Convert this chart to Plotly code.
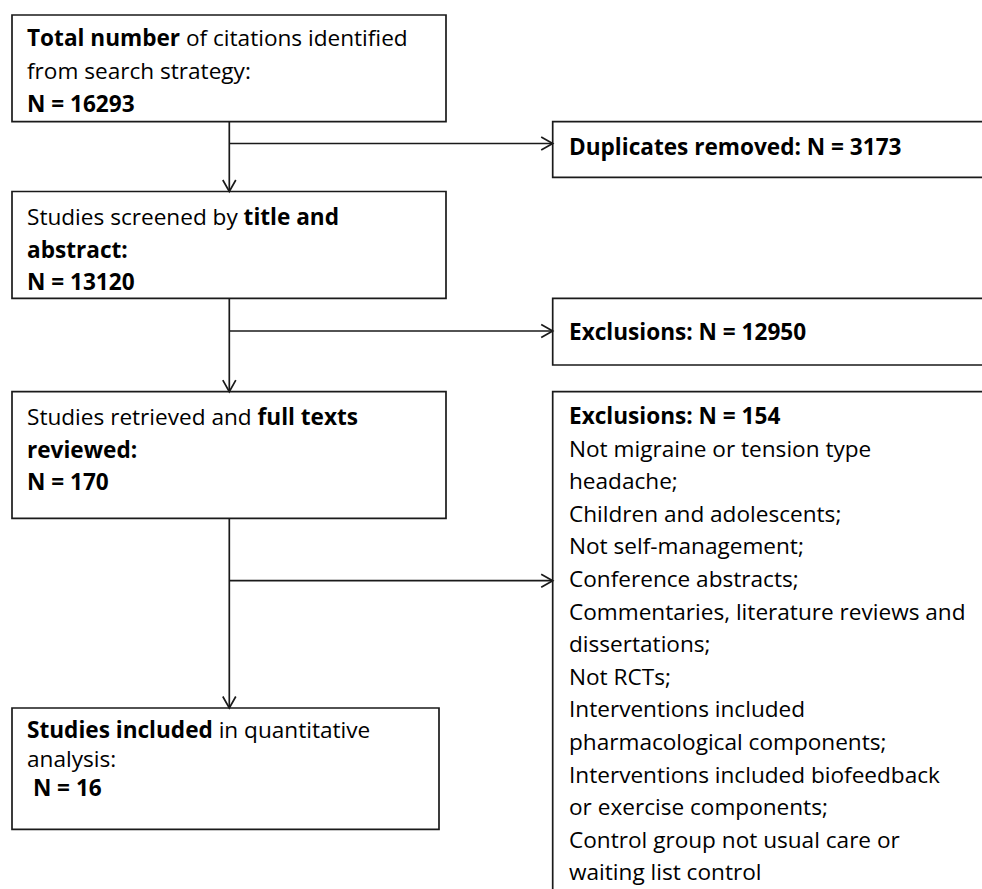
import plotly.graph_objects as go

# ---------------- data ----------------
counts = [16293, 3173, 13120, 12950, 170, 154, 16]

box1_lines = ["<b>Total number</b> of citations identified",
              "from search strategy:",
              f"<b>N = {counts[0]}</b>"]
dup_lines = [f"<b>Duplicates removed: N = {counts[1]}</b>"]
box2_lines = ["Studies screened by <b>title and</b>",
              "<b>abstract:</b>",
              f"<b>N = {counts[2]}</b>"]
excl1_lines = [f"<b>Exclusions: N = {counts[3]}</b>"]
box3_lines = ["Studies retrieved and <b>full texts</b>",
              "<b>reviewed:</b>",
              f"<b>N = {counts[4]}</b>"]
excl2_reasons = ["Not migraine or tension type",
                 "headache;",
                 "Children and adolescents;",
                 "Not self-management;",
                 "Conference abstracts;",
                 "Commentaries, literature reviews and",
                 "dissertations;",
                 "Not RCTs;",
                 "Interventions included",
                 "pharmacological components;",
                 "Interventions included biofeedback",
                 "or exercise components;",
                 "Control group not usual care or",
                 "waiting list control"]
excl2_lines = [f"<b>Exclusions: N = {counts[5]}</b>"] + excl2_reasons
box4_lines = ["<b>Studies included</b> in quantitative",
              "analysis:",
              f"\u00a0<b>N = {counts[6]}</b>"]

# ---------------- layout geometry ----------------
W, H = 982, 889
FONT = "Open Sans"
FS = 22.6
LINE_COL = "#1a1a1a"
LW = 1.7

fig = go.Figure()

def rect(x0, y0, x1, y1):
    fig.add_shape(type="rect", xref="x", yref="y", x0=x0, y0=y0, x1=x1, y1=y1,
                  line=dict(color=LINE_COL, width=LW), fillcolor="rgba(0,0,0,0)")

def line(x0, y0, x1, y1):
    fig.add_shape(type="line", xref="x", yref="y", x0=x0, y0=y0, x1=x1, y1=y1,
                  line=dict(color=LINE_COL, width=LW))

def head_down(x, y):
    fig.add_shape(type="path", xref="x", yref="y",
                  path=f"M {x-6.5},{y-11.5} L {x},{y} L {x+6.5},{y-11.5}",
                  line=dict(color=LINE_COL, width=LW))

def head_right(x, y):
    fig.add_shape(type="path", xref="x", yref="y",
                  path=f"M {x-11.5},{y-6.5} L {x},{y} L {x-11.5},{y+6.5}",
                  line=dict(color=LINE_COL, width=LW))

def text_block(lines, x, baseline0, step):
    off = 0.388 * FS
    for i, t in enumerate(lines):
        fig.add_annotation(x=x, y=baseline0 + i * step - off, xref="x", yref="y",
                           text=t, showarrow=False, xanchor="left", yanchor="middle",
                           align="left", borderpad=0,
                           font=dict(family=FONT, size=FS, color="#000000"))

# boxes (left column)
LX0, LX1 = 12, 446
rect(LX0, 15, LX1, 121.7)
rect(LX0, 191.5, LX1, 298.3)
rect(LX0, 391.7, LX1, 518.3)
rect(LX0, 708, 439, 829.3)
# boxes (right column)
RX0, RX1 = 552.7, 1000
rect(RX0, 121.7, RX1, 177.3)
rect(RX0, 298.3, RX1, 365)
rect(RX0, 391.7, RX1, 910)

# connectors
AX = 229.3
line(AX, 121.7, AX, 191.5); head_down(AX, 191.5)
line(AX, 143.5, RX0, 143.5); head_right(RX0, 143.5)
line(AX, 298.3, AX, 391.7); head_down(AX, 391.7)
line(AX, 331, RX0, 331); head_right(RX0, 331)
line(AX, 518.3, AX, 708); head_down(AX, 708)
line(AX, 580.7, RX0, 580.7); head_right(RX0, 580.7)

# texts
LT, RT = 26, 567.5
text_block(box1_lines, LT, 46.7, 32.8)
text_block(box2_lines, LT, 225, 32.8)
text_block(box3_lines, LT, 425, 32.8)
text_block(box4_lines, LT, 738.3, 29.2)
text_block(dup_lines, RT, 155, 32.8)
text_block(excl1_lines, RT, 340, 32.8)
text_block(excl2_lines, RT, 424.3, 32.6)

fig.update_layout(
    width=W, height=H,
    margin=dict(l=0, r=0, t=0, b=0),
    paper_bgcolor="white", plot_bgcolor="white",
    xaxis=dict(range=[0, W], visible=False, fixedrange=True),
    yaxis=dict(range=[H, 0], visible=False, fixedrange=True),
    showlegend=False,
)

fig.write_html("out.html", config={"displayModeBar": False},
               post_script="document.body.style.margin='0';document.body.style.overflow='hidden';")
